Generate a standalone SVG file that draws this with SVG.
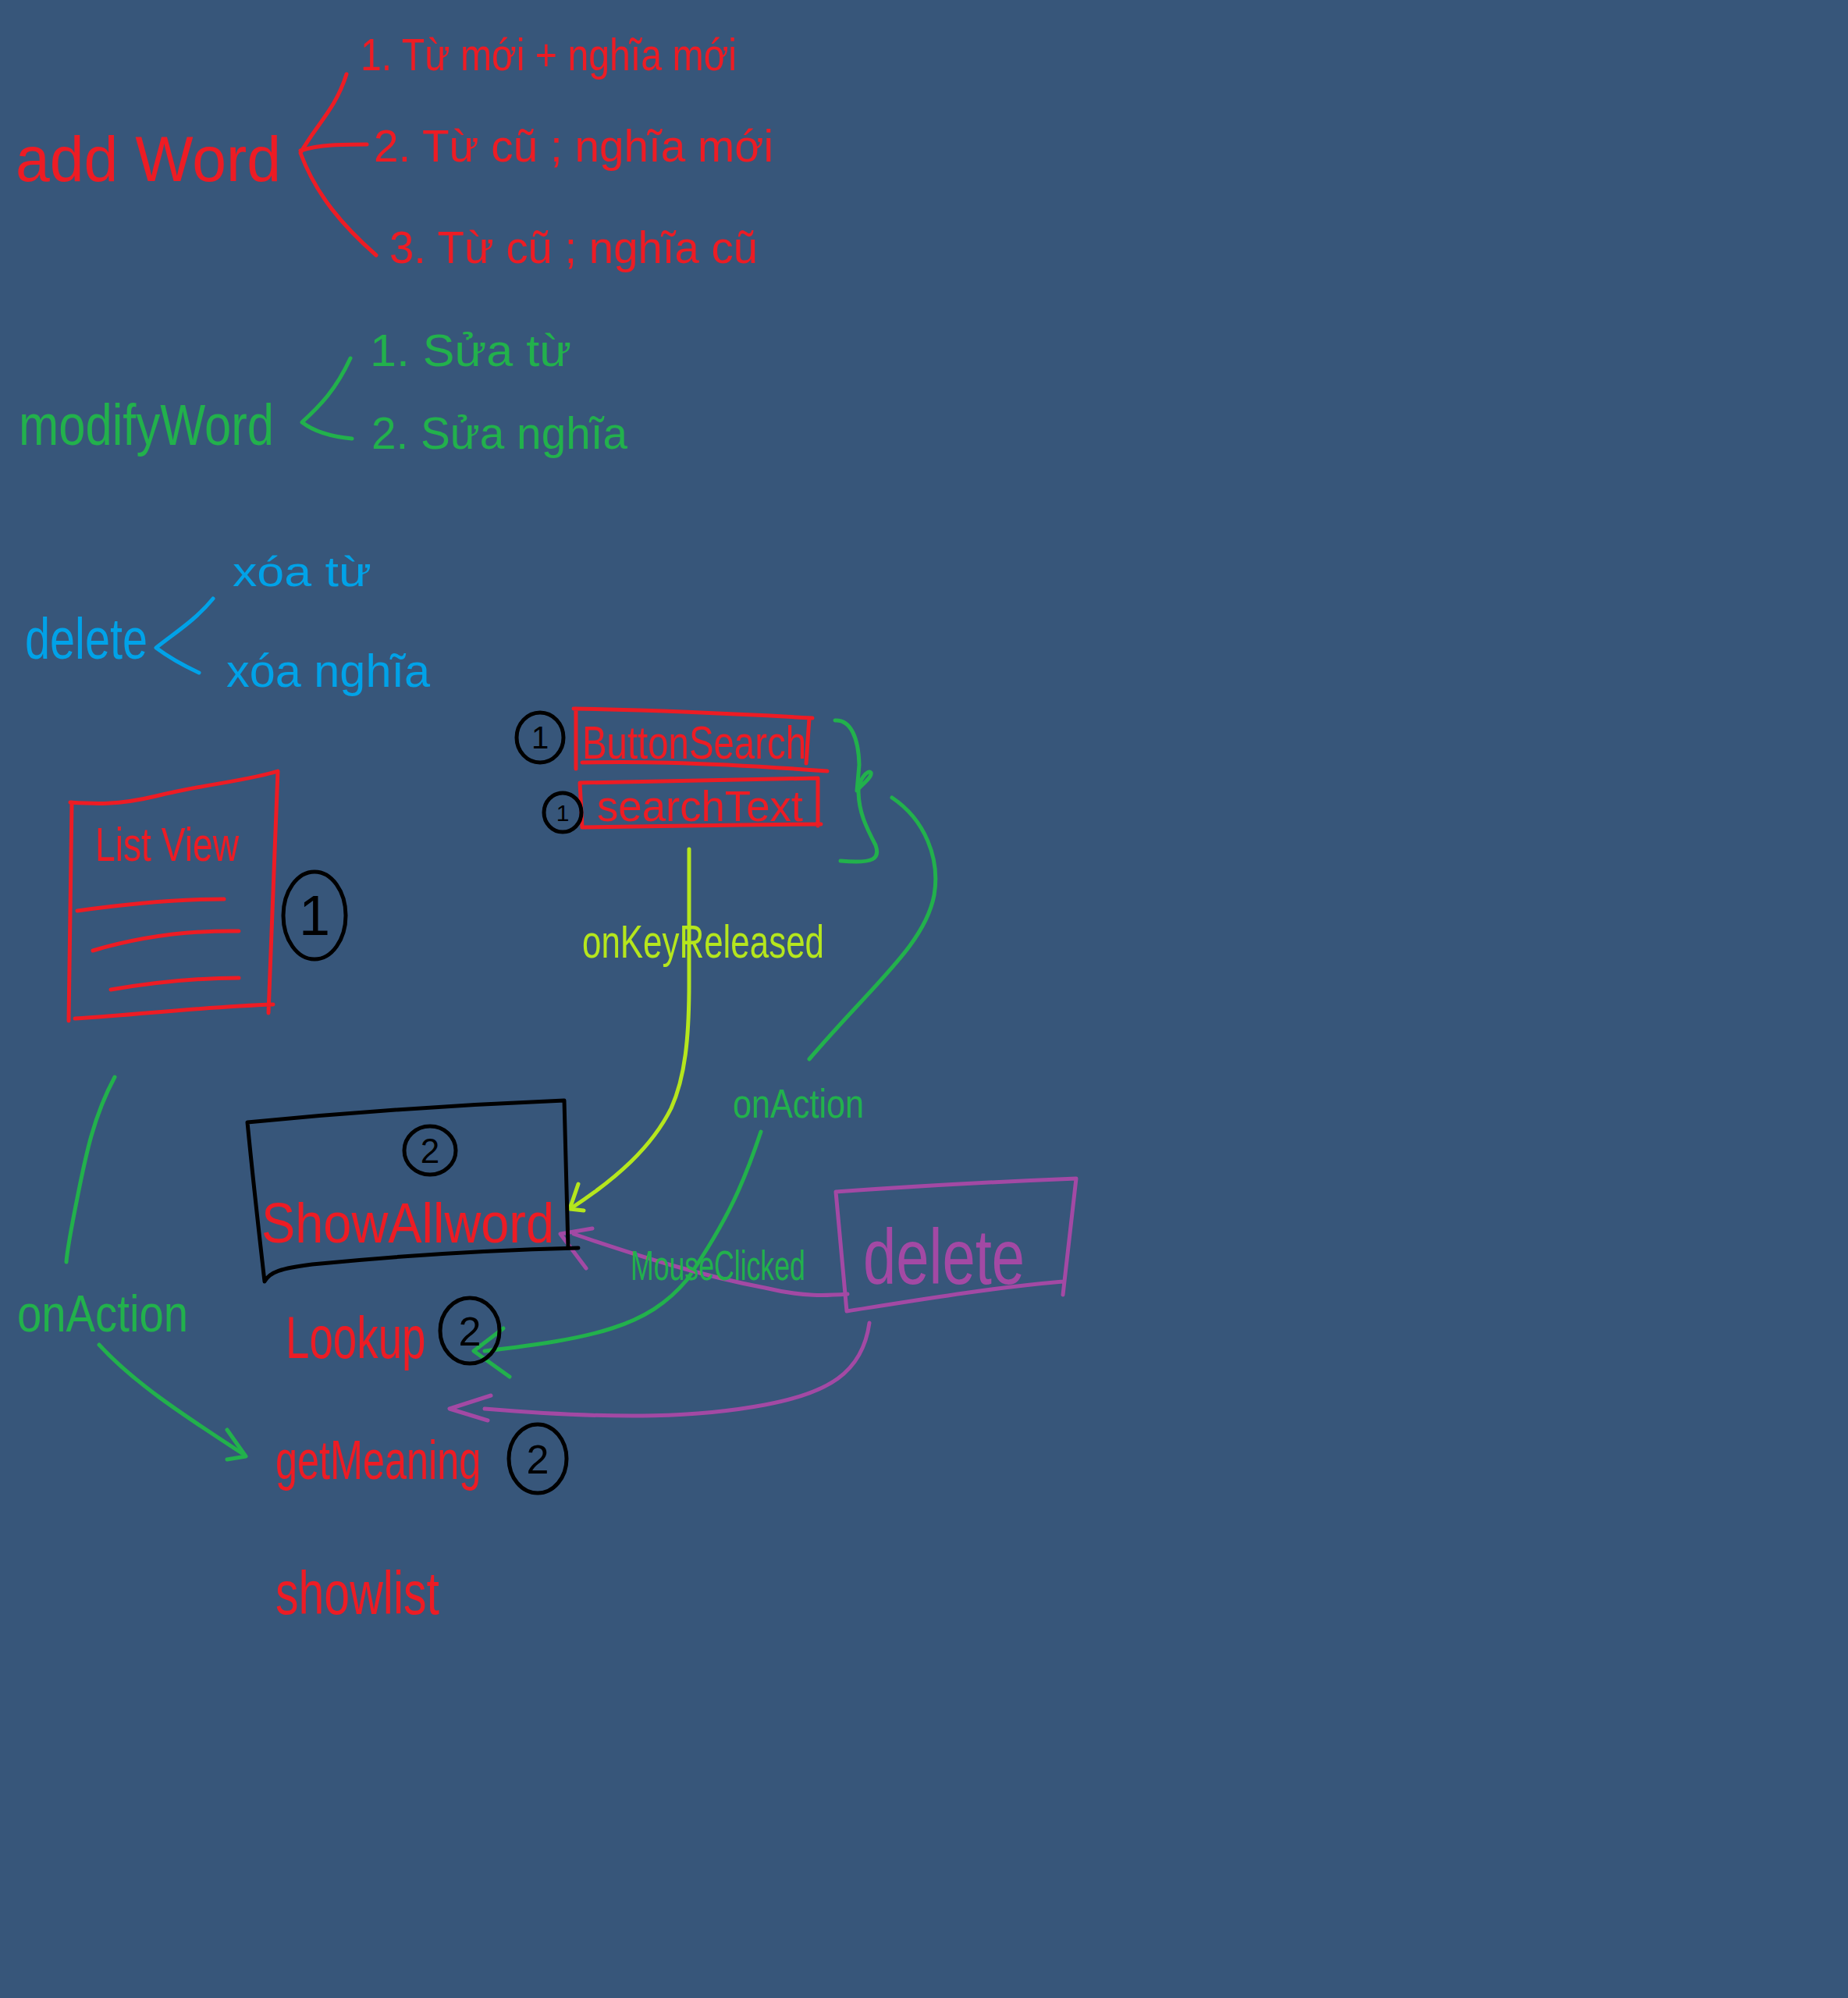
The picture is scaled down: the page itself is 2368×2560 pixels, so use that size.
<svg xmlns="http://www.w3.org/2000/svg" width="2368" height="2560" viewBox="0 0 2368 2560">
<style>
.s{fill:none;stroke-width:5;stroke-linecap:round;stroke-linejoin:round}
.r{stroke:#ED1C24}.g{stroke:#22B14C}.b{stroke:#00A2E8}.y{stroke:#B5E61D}.p{stroke:#A349A4}.k{stroke:#000}
text{font-family:"Liberation Sans Narrow","Liberation Sans","DejaVu Sans",sans-serif;}
text.w{font-family:"Liberation Sans","DejaVu Sans",sans-serif;}
.tr{fill:#ED1C24}.tg{fill:#22B14C}.tb{fill:#00A2E8}.ty{fill:#B5E61D}.tp{fill:#A349A4}.tk{fill:#000}
</style>
<rect width="2368" height="2560" fill="#37567A"/>

<g id="connectors">
  <!-- addWord bracket -->
  <path class="s r" d="M444,95 C430,140 405,160 385,196 C405,250 440,290 482,327"/>
  <path class="s r" d="M385,193 C410,185 440,185 470,185"/>
  <!-- modifyWord bracket -->
  <path class="s g" d="M449,459 C430,500 410,520 387,541 C405,555 430,560 451,562"/>
  <!-- delete bracket -->
  <path class="s b" d="M273,767 C250,795 225,810 200,830 C220,845 240,855 255,862"/>
  <!-- brace right of search boxes -->
  <path class="s g" d="M1070,923 C1090,922 1100,945 1101,980 L1098,1013 C1105,1005 1118,995 1116,990 C1112,985 1100,1000 1100,1013 C1100,1040 1110,1060 1122,1083 C1128,1100 1120,1107 1077,1103"/>
  <!-- onKeyReleased arrow -->
  <path class="s y" d="M883,1088 L883,1260 C883,1330 878,1380 860,1420 C835,1470 790,1510 732,1548"/>
  <path class="s y" d="M741,1517 L730,1549 L748,1551"/>
  <!-- onAction (buttons) arrow to Lookup -->
  <path class="s g" d="M1143,1022 C1185,1050 1205,1100 1197,1147 C1185,1210 1120,1260 1037,1357"/>
  <path class="s g" d="M975,1450 C955,1510 935,1560 880,1640 C830,1700 760,1715 621,1731"/>
  <path class="s g" d="M645,1702 L607,1731 L653,1764"/>
  <!-- onAction (listview) arrow to getMeaning -->
  <path class="s g" d="M147,1380 C120,1430 110,1480 100,1530 C92,1570 86,1600 85,1617"/>
  <path class="s g" d="M127,1723 C170,1770 230,1810 310,1862"/>
  <path class="s g" d="M291,1832 L315,1866 L291,1870"/>
  <!-- purple MouseClicked arrow to ShowAllword -->
  <path class="s p" d="M1086,1658 C1060,1660 1030,1662 980,1650 C900,1635 820,1610 735,1581"/>
  <path class="s p" d="M759,1574 L718,1581 L751,1625"/>
  <!-- purple arrow to Lookup/getMeaning -->
  <path class="s p" d="M1114,1695 C1105,1760 1060,1785 980,1800 C900,1815 800,1820 621,1805"/>
  <path class="s p" d="M629,1788 L576,1805 L625,1820"/>
</g>

<g id="addWord">
  <text class="tr" x="20" y="232" font-size="82" textLength="340" lengthAdjust="spacingAndGlyphs">add Word</text>
</g>
<g id="addWord-1">
  <text class="tr" x="462" y="90" font-size="58" textLength="482" lengthAdjust="spacingAndGlyphs">1. Từ mới + nghĩa mới</text>
</g>
<g id="addWord-2">
  <text class="tr" x="479" y="207" font-size="58" textLength="512" lengthAdjust="spacingAndGlyphs">2. Từ cũ ; nghĩa mới</text>
</g>
<g id="addWord-3">
  <text class="tr" x="499" y="337" font-size="58" textLength="472" lengthAdjust="spacingAndGlyphs">3. Từ cũ ; nghĩa cũ</text>
</g>

<g id="modifyWord">
  <text class="tg" x="24" y="570" font-size="74" textLength="327" lengthAdjust="spacingAndGlyphs">modifyWord</text>
</g>
<g id="modify-1">
  <text class="tg" x="474" y="469" font-size="58" textLength="258" lengthAdjust="spacingAndGlyphs">1. Sửa từ</text>
</g>
<g id="modify-2">
  <text class="tg" x="476" y="575" font-size="58" textLength="328" lengthAdjust="spacingAndGlyphs">2. Sửa nghĩa</text>
</g>

<g id="delete-label">
  <text class="tb" x="32" y="844" font-size="74" textLength="157" lengthAdjust="spacingAndGlyphs">delete</text>
</g>
<g id="delete-1">
  <text class="tb" x="298" y="751" font-size="54" textLength="178" lengthAdjust="spacingAndGlyphs">xóa từ</text>
</g>
<g id="delete-2">
  <text class="tb" x="290" y="880" font-size="60" textLength="261" lengthAdjust="spacingAndGlyphs">xóa nghĩa</text>
</g>

<g id="buttonSearch">
  <path class="s r" d="M735,908 C850,910 950,915 1041,920 M738,908 L738,985 M1037,920 L1033,978 M746,977 C800,976 880,975 1060,988"/>
  <text class="tr" x="746" y="972" font-size="60" textLength="287" lengthAdjust="spacingAndGlyphs">ButtonSearch</text>
  <ellipse class="s k" cx="692" cy="945" rx="30" ry="32"/>
  <text class="tk" x="692" y="959" font-size="40" text-anchor="middle">1</text>
</g>

<g id="searchText">
  <path class="s r" d="M743,1003 C850,1000 950,998 1048,997 L1048,1058 M746,1060 C850,1058 950,1057 1052,1056 M743,1003 L746,1060"/>
  <text class="tr" x="765" y="1052" font-size="56" textLength="264" lengthAdjust="spacingAndGlyphs">searchText</text>
  <ellipse class="s k" cx="721" cy="1041" rx="24" ry="25"/>
  <text class="tk" x="721" y="1052" font-size="30" text-anchor="middle">1</text>
</g>

<g id="listView">
  <path class="s r" d="M90,1028 C120,1030 150,1032 200,1020 C260,1005 320,1000 356,988 L344,1298 M92,1028 L88,1308 M96,1305 C180,1300 260,1290 350,1287"/>
  <path class="s r" d="M99,1167 C150,1160 220,1152 287,1152 M119,1218 C180,1200 240,1192 306,1193 M142,1268 C200,1258 250,1253 306,1253"/>
  <text class="tr" x="122" y="1103" font-size="62" textLength="184" lengthAdjust="spacingAndGlyphs">List View</text>
  <ellipse class="s k" cx="403" cy="1173" rx="40" ry="56"/>
  <text class="tk" x="403" y="1198" font-size="72" text-anchor="middle">1</text>
</g>

<g id="onKeyReleased">
  <text class="ty" x="746" y="1227" font-size="60" textLength="310" lengthAdjust="spacingAndGlyphs">onKeyReleased</text>
</g>
<g id="onAction-1">
  <text class="tg" x="939" y="1432" font-size="52" textLength="168" lengthAdjust="spacingAndGlyphs">onAction</text>
</g>
<g id="onAction-2">
  <text class="tg" x="22" y="1706" font-size="66" textLength="219" lengthAdjust="spacingAndGlyphs">onAction</text>
</g>
<g id="mouseClicked">
  <text class="tg w" transform="translate(808,1640) scale(0.66,1)" font-size="54">MouseClicked</text>
</g>

<g id="showAllWord">
  <path class="s k" d="M317,1438 C450,1425 600,1415 723,1410 L728,1599 M317,1438 C325,1520 332,1580 339,1642 C345,1630 360,1625 400,1620 C500,1610 620,1602 741,1599"/>
  <ellipse class="s k" cx="551" cy="1474" rx="33" ry="31"/>
  <text class="tk" x="551" y="1490" font-size="44" text-anchor="middle">2</text>
  <text class="tr" x="335" y="1592" font-size="72" textLength="375" lengthAdjust="spacingAndGlyphs">ShowAllword</text>
</g>

<g id="deleteButton">
  <path class="s p" d="M1071,1527 C1170,1520 1280,1514 1379,1510 L1362,1659 M1071,1527 L1085,1680 C1180,1665 1270,1650 1362,1642"/>
  <text class="tp" x="1106" y="1645" font-size="100" textLength="207" lengthAdjust="spacingAndGlyphs">delete</text>
</g>

<g id="lookup">
  <text class="tr w" transform="translate(366,1740) scale(0.72,1)" font-size="76">Lookup</text>
  <ellipse class="s k" cx="602" cy="1705" rx="38" ry="42"/>
  <text class="tk" x="602" y="1724" font-size="52" text-anchor="middle">2</text>
</g>

<g id="getMeaning">
  <text class="tr w" transform="translate(353,1895) scale(0.72,1)" font-size="70">getMeaning</text>
  <ellipse class="s k" cx="689" cy="1869" rx="37" ry="44"/>
  <text class="tk" x="689" y="1888" font-size="52" text-anchor="middle">2</text>
</g>

<g id="showList">
  <text class="tr" x="353" y="2068" font-size="78" textLength="210" lengthAdjust="spacingAndGlyphs">showlist</text>
</g>
</svg>
